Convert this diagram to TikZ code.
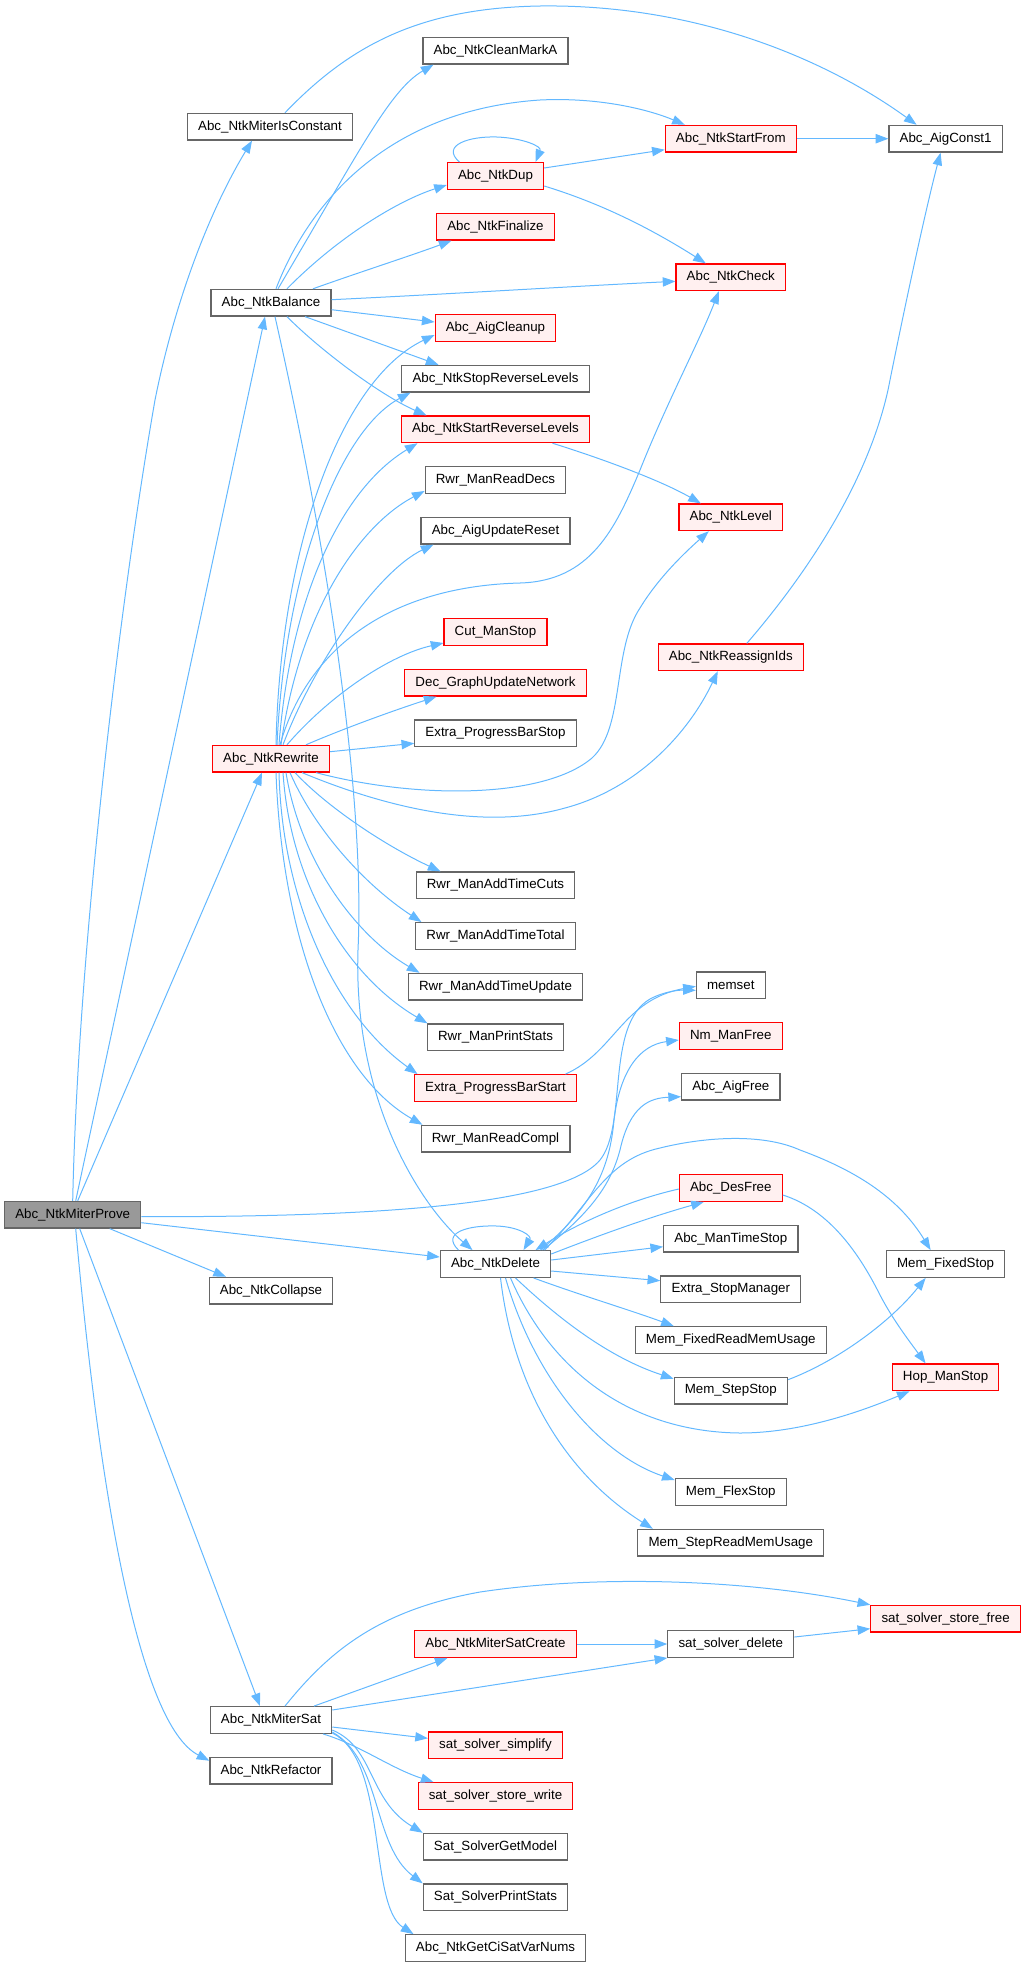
\documentclass[tikz,border=0pt]{standalone}
\usepackage{fontspec}
\setmainfont{Liberation Sans}
\usetikzlibrary{arrows.meta,calc}
\definecolor{edgeblue}{HTML}{63B8FF}
\definecolor{nodegray}{HTML}{666666}
\definecolor{rootfill}{HTML}{999999}
\definecolor{redfill}{HTML}{FFF0F0}
\begin{document}
\begin{tikzpicture}[x=0.75pt,y=-0.75pt,
 fn/.style={draw=nodegray, fill=white, line width=0.9pt, minimum height=20pt, inner xsep=8pt, inner ysep=0pt, font=\fontsize{10pt}{12pt}\selectfont, text=black},
 redfn/.style={fn, draw=red, fill=redfill},
 rootfn/.style={fn, fill=rootfill},
 conn/.style={draw=edgeblue, line width=0.75pt, -{Triangle[length=9.5pt,width=7pt]}}
]
\useasboundingbox (0,0) rectangle (1024,1967);

% column 0/1
\node[rootfn] (P) at (72.7,1214.7) {Abc\_NtkMiterProve};
\node[fn] (IsConst) at (270,126.7) {Abc\_NtkMiterIsConstant};
\node[fn] (Balance) at (271,302.7) {Abc\_NtkBalance};
\node[redfn] (Rewrite) at (271,758.7) {Abc\_NtkRewrite};
\node[fn] (Collapse) at (271,1290.7) {Abc\_NtkCollapse};
\node[fn] (MiterSat) at (271,1720) {Abc\_NtkMiterSat};
\node[fn] (Refactor) at (271,1770.7) {Abc\_NtkRefactor};

% column 2
\node[fn] (CleanMarkA) at (495.5,50.7) {Abc\_NtkCleanMarkA};
\node[redfn] (Dup) at (495.5,176) {Abc\_NtkDup};
\node[redfn] (Finalize) at (495.5,226.7) {Abc\_NtkFinalize};
\node[redfn] (AigCleanup) at (495.5,328) {Abc\_AigCleanup};
\node[fn] (StopRev) at (495.5,378.7) {Abc\_NtkStopReverseLevels};
\node[redfn] (StartRev) at (495.5,429.3) {Abc\_NtkStartReverseLevels};
\node[fn] (ReadDecs) at (495.5,480) {Rwr\_ManReadDecs};
\node[fn] (UpdateReset) at (495.5,530.7) {Abc\_AigUpdateReset};
\node[redfn] (CutStop) at (495.5,632) {Cut\_ManStop};
\node[redfn] (DecGraph) at (495.5,682.7) {Dec\_GraphUpdateNetwork};
\node[fn] (PBStop) at (495.5,733.3) {Extra\_ProgressBarStop};
\node[fn] (TCuts) at (495.5,885.3) {Rwr\_ManAddTimeCuts};
\node[fn] (TTotal) at (495.5,936) {Rwr\_ManAddTimeTotal};
\node[fn] (TUpdate) at (495.5,986.7) {Rwr\_ManAddTimeUpdate};
\node[fn] (RPrint) at (495.5,1037.3) {Rwr\_ManPrintStats};
\node[redfn] (PBStart) at (495.5,1088) {Extra\_ProgressBarStart};
\node[fn] (RCompl) at (495.5,1138.7) {Rwr\_ManReadCompl};
\node[fn] (NtkDelete) at (495.5,1264) {Abc\_NtkDelete};
\node[redfn] (SatCreate) at (495.5,1644) {Abc\_NtkMiterSatCreate};
\node[redfn] (Simplify) at (495.5,1745.3) {sat\_solver\_simplify};
\node[redfn] (StoreWrite) at (495.5,1796) {sat\_solver\_store\_write};
\node[fn] (GetModel) at (495.5,1846.7) {Sat\_SolverGetModel};
\node[fn] (SPrint) at (495.5,1897.3) {Sat\_SolverPrintStats};
\node[fn] (GetCi) at (495.5,1948) {Abc\_NtkGetCiSatVarNums};

% column 3
\node[redfn] (StartFrom) at (730.8,138.7) {Abc\_NtkStartFrom};
\node[redfn] (NtkCheck) at (730.8,277.3) {Abc\_NtkCheck};
\node[redfn] (NtkLevel) at (730.8,517.3) {Abc\_NtkLevel};
\node[redfn] (Reassign) at (730.8,657.3) {Abc\_NtkReassignIds};
\node[fn] (memset) at (730.8,985.3) {memset};
\node[redfn] (NmFree) at (730.8,1036) {Nm\_ManFree};
\node[fn] (AigFree) at (730.8,1086.7) {Abc\_AigFree};
\node[redfn] (DesFree) at (730.8,1188) {Abc\_DesFree};
\node[fn] (TimeStop) at (730.8,1238.7) {Abc\_ManTimeStop};
\node[fn] (StopMgr) at (730.8,1289.3) {Extra\_StopManager};
\node[fn] (FixedRead) at (730.8,1340) {Mem\_FixedReadMemUsage};
\node[fn] (StepStop) at (730.8,1390.7) {Mem\_StepStop};
\node[fn] (FlexStop) at (730.8,1492) {Mem\_FlexStop};
\node[fn] (StepRead) at (730.8,1542.7) {Mem\_StepReadMemUsage};
\node[fn] (SatDelete) at (730.8,1644) {sat\_solver\_delete};

% column 4
\node[fn] (AigConst) at (945.6,138.7) {Abc\_AigConst1};
\node[fn] (FixedStop) at (945.6,1264) {Mem\_FixedStop};
\node[redfn] (HopStop) at (945.6,1377.3) {Hop\_ManStop};
\node[redfn] (StoreFree) at (945.6,1618.7) {sat\_solver\_store\_free};

% edges from Abc_NtkMiterProve
\draw[conn] (P.north) .. controls (78,950) and (120,600) .. (155,400) .. controls (175,300) and (210,210) .. ($(IsConst.south)+(-18,0)$);
\draw[conn] ($(P.north)+(3,0)$) -- ($(Balance.south)+(-6,0)$);
\draw[conn] ($(P.north)+(5,0)$) -- ($(Rewrite.south)+(-9,0)$);
\draw[conn] ($(P.east)+(0,2)$) .. controls (350,1217) and (560,1208) .. (600,1160) .. controls (628,1125) and (605,1025) .. (650,999) .. controls (665,991) and (680,990) .. ($(memset.west)+(0,5)$);
\draw[conn] ($(P.east)+(0,8)$) -- ($(NtkDelete.west)+(0,-7)$);
\draw[conn] ($(P.south)+(37,0)$) -- ($(Collapse.north)+(-45,0)$);
\draw[conn] ($(P.south)+(7,0)$) -- ($(MiterSat.north)+(-11,0)$);
\draw[conn] ($(P.south)+(3,0)$) .. controls (100,1500) and (140,1725) .. ($(Refactor.west)+(0,-10)$);

% Abc_NtkMiterIsConstant
\draw[conn] ($(IsConst.north)+(15,0)$) .. controls (350,45) and (420,8) .. (540,6) .. controls (690,4) and (820,55) .. ($(AigConst.north)+(-29,0)$);

% Abc_NtkBalance
\draw[conn] ($(Balance.north)+(7,0)$) .. controls (360,150) and (390,90) .. ($(CleanMarkA.south)+(-62,0)$);
\draw[conn] ($(Balance.north)+(5,0)$) .. controls (310,200) and (390,110) .. (540,100) .. controls (600,97) and (650,110) .. ($(StartFrom.north)+(-46,0)$);
\draw[conn] ($(Balance.north)+(16,0)$) .. controls (340,235) and (400,200) .. ($(Dup.west)+(0,9)$);
\draw[conn] ($(Balance.north)+(42,0)$) .. controls (360,272) and (410,256) .. ($(Finalize.south)+(-44,0)$);
\draw[conn] ($(Balance.east)+(0,-3)$) .. controls (450,294) and (560,287) .. ($(NtkCheck.west)+(0,4)$);
\draw[conn] ($(Balance.east)+(0,7)$) -- ($(AigCleanup.west)+(0,-6)$);
\draw[conn] ($(Balance.south)+(34,0)$) -- ($(StopRev.north)+(-57,0)$);
\draw[conn] ($(Balance.south)+(16,0)$) .. controls (320,350) and (380,395) .. ($(StartRev.north)+(-69,0)$);
\draw[conn] ($(Balance.south)+(4,0)$) .. controls (330,560) and (365,800) .. (358,950) .. controls (353,1100) and (420,1205) .. ($(NtkDelete.north)+(-23,0)$);

% Abc_NtkDup
\draw[conn] ($(Dup.north)+(-36,0)$) .. controls (440,145) and (470,136) .. (497,137) .. controls (522,138) and (542,146) .. ($(Dup.north)+(40,0)$);
\draw[conn] ($(Dup.east)+(0,-8)$) -- ($(StartFrom.west)+(0,11)$);
\draw[conn] ($(Dup.east)+(0,10)$) .. controls (600,203) and (650,228) .. ($(NtkCheck.north)+(-25,0)$);
\draw[conn] (StartFrom.east) -- (AigConst.west);
\draw[conn] ($(Reassign.north)+(16,0)$) .. controls (810,570) and (868,480) .. (888,390) .. controls (908,290) and (928,200) .. ($(AigConst.south)+(-5,0)$);
\draw[conn] ($(StartRev.south)+(57,0)$) .. controls (600,458) and (660,480) .. ($(NtkLevel.north)+(-30,0)$);

% Abc_NtkRewrite
\draw[conn] ($(Rewrite.north)+(5,0)$) .. controls (280,550) and (340,380) .. ($(AigCleanup.west)+(0,7)$);
\draw[conn] ($(Rewrite.north)+(6,0)$) .. controls (285,570) and (340,430) .. ($(StopRev.south)+(-85,0)$);
\draw[conn] ($(Rewrite.north)+(8,0)$) .. controls (290,600) and (340,490) .. ($(StartRev.south)+(-78,0)$);
\draw[conn] ($(Rewrite.north)+(10,0)$) .. controls (300,610) and (360,525) .. ($(ReadDecs.west)+(0,11)$);
\draw[conn] ($(Rewrite.north)+(12,0)$) .. controls (315,660) and (380,570) .. ($(UpdateReset.south)+(-62,0)$);
\draw[conn] ($(Rewrite.north)+(9,0)$) .. controls (310,640) and (400,586) .. (520,583) .. controls (590,581) and (615,530) .. (640,470) .. controls (668,400) and (700,340) .. ($(NtkCheck.south)+(-12,0)$);
\draw[conn] ($(Rewrite.north)+(16,0)$) .. controls (330,695) and (390,655) .. ($(CutStop.west)+(0,11)$);
\draw[conn] ($(Rewrite.north)+(35,0)$) .. controls (345,728) and (395,710) .. ($(DecGraph.south)+(-59,0)$);
\draw[conn] ($(Rewrite.east)+(0,-7)$) -- ($(PBStop.west)+(0,10)$);
\draw[conn] ($(Rewrite.south)+(45,0)$) .. controls (420,800) and (545,798) .. (592,758) .. controls (625,728) and (612,650) .. (640,608) .. controls (660,575) and (690,548) .. ($(NtkLevel.south)+(-22,0)$);
\draw[conn] ($(Rewrite.south)+(31,0)$) .. controls (380,805) and (480,832) .. (565,808) .. controls (640,788) and (690,730) .. ($(Reassign.south)+(-13,0)$);
\draw[conn] ($(Rewrite.south)+(24,0)$) .. controls (330,810) and (390,848) .. ($(TCuts.north)+(-55,0)$);
\draw[conn] ($(Rewrite.south)+(19,0)$) .. controls (315,830) and (365,885) .. ($(TTotal.north)+(-74,0)$);
\draw[conn] ($(Rewrite.south)+(15,0)$) .. controls (300,860) and (355,935) .. ($(TUpdate.north)+(-76,0)$);
\draw[conn] ($(Rewrite.south)+(12,0)$) .. controls (290,880) and (345,975) .. ($(RPrint.north)+(-68,0)$);
\draw[conn] ($(Rewrite.south)+(8,0)$) .. controls (282,900) and (335,1015) .. ($(PBStart.north)+(-78,0)$);
\draw[conn] ($(Rewrite.south)+(5,0)$) .. controls (282,940) and (335,1075) .. ($(RCompl.north)+(-73,0)$);

\draw[conn] ($(PBStart.north)+(70,0)$) .. controls (615,1052) and (622,1000) .. ($(memset.west)+(0,1)$);

% Abc_NtkDelete
\draw[conn] ($(NtkDelete.north)+(-37,0)$) .. controls (440,1232) and (470,1225) .. (497,1226) .. controls (520,1227) and (532,1236) .. ($(NtkDelete.north)+(28,0)$);
\draw[conn] ($(NtkDelete.north)+(45,0)$) .. controls (595,1205) and (610,1165) .. (614,1120) .. controls (620,1070) and (640,1045) .. ($(NmFree.west)+(0,4)$);
\draw[conn] ($(NtkDelete.north)+(47,0)$) .. controls (595,1210) and (612,1180) .. (620,1150) .. controls (630,1105) and (650,1098) .. ($(AigFree.west)+(0,10)$);
\draw[conn] ($(NtkDelete.north)+(49,0)$) .. controls (590,1205) and (605,1160) .. (660,1148) .. controls (700,1138) and (760,1132) .. (800,1150) .. controls (860,1172) and (900,1200) .. ($(FixedStop.north)+(-15,0)$);
\draw[conn] ($(NtkDelete.east)+(0,-10)$) .. controls (600,1235) and (650,1217) .. ($(DesFree.south)+(-27,0)$);
\draw[conn] ($(DesFree.west)+(0,1)$) .. controls (630,1200) and (580,1222) .. ($(NtkDelete.north)+(40,0)$);
\draw[conn] ($(NtkDelete.east)+(0,-4)$) -- ($(TimeStop.west)+(0,8)$);
\draw[conn] ($(NtkDelete.east)+(0,7)$) -- ($(StopMgr.west)+(0,-8.6)$);
\draw[conn] ($(NtkDelete.south)+(38,0)$) .. controls (580,1295) and (630,1310) .. ($(FixedRead.north)+(-57,0)$);
\draw[conn] ($(NtkDelete.south)+(20,0)$) .. controls (560,1320) and (610,1358) .. ($(StepStop.west)+(0,-12)$);
\draw[conn] ($(NtkDelete.south)+(15,0)$) .. controls (555,1380) and (640,1432) .. (740,1433) .. controls (800,1433) and (860,1412) .. ($(HopStop.south)+(-36,0)$);
\draw[conn] ($(NtkDelete.south)+(10,0)$) .. controls (535,1380) and (600,1455) .. ($(FlexStop.west)+(0,-12)$);
\draw[conn] ($(NtkDelete.south)+(5,0)$) .. controls (515,1400) and (575,1480) .. ($(StepRead.north)+(-78,0)$);

\draw[conn] ($(DesFree.east)+(0,7)$) .. controls (830,1210) and (860,1255) .. (880,1295) .. controls (893,1320) and (910,1342) .. ($(HopStop.north)+(-20,0)$);
\draw[conn] ($(StepStop.east)+(0,-11)$) .. controls (840,1360) and (892,1320) .. ($(FixedStop.south)+(-20,0)$);

% Abc_NtkMiterSat
\draw[conn] ($(MiterSat.north)+(14,0)$) .. controls (330,1650) and (380,1610) .. (480,1592) .. controls (600,1574) and (750,1580) .. (StoreFree.north west);
\draw[conn] ($(MiterSat.north)+(43,0)$) -- ($(SatCreate.south)+(-48,0)$);
\draw[conn] ($(MiterSat.east)+(0,-10)$) -- (SatDelete.south west);
\draw[conn] (SatCreate.east) -- (SatDelete.west);
\draw[conn] ($(SatDelete.east)+(0,-7)$) -- ($(StoreFree.west)+(0,10)$);
\draw[conn] ($(MiterSat.east)+(0,7)$) -- ($(Simplify.west)+(0,-7)$);
\draw[conn] ($(MiterSat.south)+(52,0)$) .. controls (360,1745) and (390,1768) .. ($(StoreWrite.north)+(-62,0)$);
\draw[conn] ($(MiterSat.east)+(0,10)$) .. controls (375,1748) and (368,1800) .. (GetModel.north west);
\draw[conn] ($(MiterSat.east)+(0,12)$) .. controls (382,1760) and (372,1845) .. (SPrint.north west);
\draw[conn] ($(MiterSat.east)+(0,13)$) .. controls (388,1760) and (368,1905) .. ($(GetCi.north)+(-82,0)$);
\end{tikzpicture}
\end{document}
